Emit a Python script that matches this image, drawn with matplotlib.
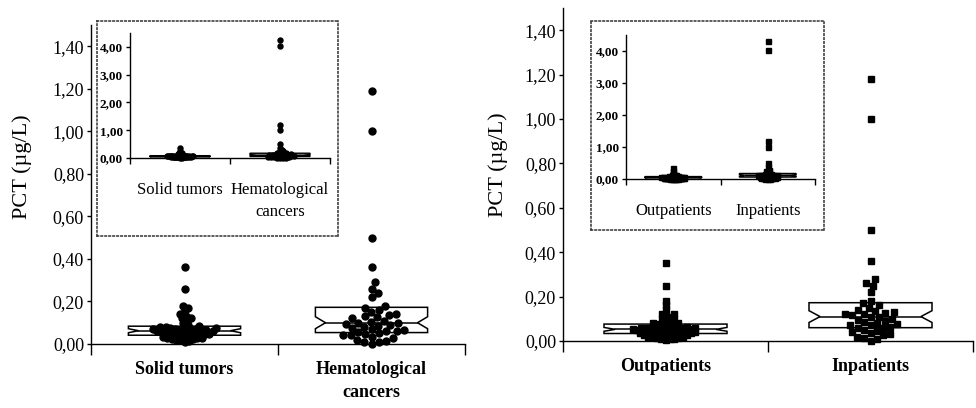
import numpy as np
import matplotlib
matplotlib.use("Agg")
import matplotlib.pyplot as plt
from matplotlib import cbook
from matplotlib.ticker import FuncFormatter

plt.rcParams['font.family'] = ['Liberation Serif', 'DejaVu Serif']

# PCT values (µg/L)
solid = [0.36, 0.26, 0.18, 0.17, 0.16, 0.14, 0.13, 0.12, 0.12, 0.11, 0.10, 0.09,
         0.085, 0.08, 0.08, 0.08, 0.075, 0.075, 0.07, 0.07, 0.07, 0.07, 0.065,
         0.065, 0.065, 0.06, 0.06, 0.06, 0.06, 0.055, 0.055, 0.05, 0.05, 0.05,
         0.045, 0.045, 0.045, 0.04,
         0.04, 0.035, 0.035, 0.03, 0.03, 0.03, 0.025, 0.025, 0.02, 0.02, 0.015, 0.01]
hemato = [4.26, 4.02, 1.19, 1.00, 0.50, 0.36, 0.29, 0.26, 0.24, 0.22, 0.18,
          0.17, 0.16, 0.15, 0.14, 0.135, 0.13, 0.125, 0.12, 0.11, 0.105, 0.10,
          0.10, 0.095, 0.09, 0.085, 0.08, 0.075, 0.07, 0.065, 0.06, 0.06, 0.055,
          0.05, 0.045, 0.04, 0.04, 0.035, 0.03, 0.02, 0.015, 0.01, 0.01, 0.00]
outpat = [0.35, 0.25, 0.18, 0.16, 0.14, 0.12, 0.12, 0.11, 0.11, 0.10, 0.10,
          0.09, 0.09, 0.08, 0.08,
          0.075, 0.07, 0.07, 0.07, 0.065, 0.065,
          0.06, 0.06, 0.06, 0.06, 0.06, 0.055, 0.055, 0.055, 0.055,
          0.05, 0.05, 0.05, 0.05, 0.045, 0.045, 0.045,
          0.04, 0.04, 0.04, 0.04, 0.035, 0.035, 0.035, 0.035,
          0.03, 0.03, 0.03, 0.025, 0.025, 0.025, 0.02, 0.02, 0.02, 0.015, 0.015,
          0.01, 0.01, 0.01, 0.005]
inpat = [4.30, 4.03, 1.18, 1.00, 0.50, 0.36, 0.28, 0.26, 0.25, 0.22, 0.18,
         0.17, 0.16, 0.15, 0.14, 0.135, 0.13, 0.125, 0.12, 0.12, 0.115, 0.11, 0.11,
         0.10, 0.095, 0.09, 0.085, 0.08, 0.075, 0.07, 0.07, 0.065, 0.06,
         0.06, 0.05, 0.045, 0.04, 0.035, 0.03, 0.025, 0.02, 0.015, 0.01, 0.00]

left_labels = ['Solid tumors', 'Hematological\ncancers']
right_labels = ['Outpatients', 'Inpatients']
main_ticks = [0.0, 0.2, 0.4, 0.6, 0.8, 1.0, 1.2, 1.4]
inset_ticks = [0, 1, 2, 3, 4]

W, H = 976, 408
fig = plt.figure(figsize=(W / 100, H / 100), dpi=100)


def box_px(x0, y0, x1, y1):
    # pixel rectangle (top-left origin) -> figure fraction
    return [x0 / W, 1 - y1 / H, (x1 - x0) / W, (y1 - y0) / H]


comma = FuncFormatter(lambda v, p: f'{v:.2f}'.replace('.', ','))


def swarm(ax, vals, d):
    # beeswarm: smallest horizontal shift so points d px apart do not collide
    t = ax.transData
    ys = t.transform(np.column_stack([np.zeros(len(vals)), vals]))[:, 1]
    sx = t.transform([[1, 0]])[0][0] - t.transform([[0, 0]])[0][0]
    placed = []
    off = np.zeros(len(vals))
    for i in np.argsort(vals, kind='stable'):
        y = ys[i]
        near = [(a, b) for a, b in placed if abs(b - y) < d]
        cands = [0.0]
        for a, b in near:
            dx = np.sqrt(d * d - (b - y) ** 2)
            cands += [a + dx, a - dx]
        cands.sort(key=abs)
        for c in cands:
            if all((c - a) ** 2 + (y - b) ** 2 >= d * d - 1e-6 for a, b in near):
                break
        placed.append((c, y))
        off[i] = c / sx
    return off


def notched_box(ax, pos, vals, width, face, lw):
    st = cbook.boxplot_stats(vals)[0]
    q1, med, q3 = st['q1'], st['med'], st['q3']
    lo, hi = max(st['cilo'], q1), min(st['cihi'], q3)
    l, r = pos - width / 2, pos + width / 2
    n = 0.09 * width
    xs = [l, r, r, r - n, r, r, l, l, l + n, l]
    ys = [q1, q1, lo, med, hi, q3, q3, hi, med, lo]
    ax.fill(xs, ys, facecolor=face, edgecolor='black', lw=lw, zorder=2)
    ax.plot([l + n, r - n], [med, med], color='black', lw=lw, zorder=2)


def style_axes(ax, ymax, yticks, labels, tick_fs, lab_fs, bold, pad, xtick_len):
    ax.set_xlim(0, 2)
    ax.set_ylim(0, ymax)
    for s in ['top', 'right']:
        ax.spines[s].set_visible(False)
    for s in ['left', 'bottom']:
        ax.spines[s].set_linewidth(1.0)
    ax.set_yticks(yticks)
    ax.yaxis.set_major_formatter(comma)
    ax.tick_params(axis='y', direction='out', length=3, width=1.0,
                   labelsize=tick_fs, pad=2)
    ax.set_xticks([0, 1, 2])
    ax.set_xticklabels([])
    ax.set_xticks([0.5, 1.5], minor=True)
    ax.set_xticklabels(labels, minor=True, fontsize=lab_fs,
                       fontweight='bold' if bold else 'normal', linespacing=1.5)
    ax.tick_params(axis='x', which='major', direction='out', length=xtick_len, width=1.0)
    ax.tick_params(axis='x', which='minor', length=0, pad=pad)
    ax.patch.set_alpha(0)


def panel(main_rect, border_rect, inset_rect, groups, labels, marker, gaps, ylab_xy):
    ax = fig.add_axes(box_px(*main_rect))
    style_axes(ax, 1.5, main_ticks, labels, 13, 13, True, 12, 8)
    offsets = []
    for k, vals in enumerate(groups):
        v = np.asarray(vals)
        off = swarm(ax, v, gaps[k])
        offsets.append(off)
        notched_box(ax, k + 0.5, v, 0.6, 'white', 1.1)
        keep = v <= 1.5
        ax.plot(k + 0.5 + off[keep], v[keep], ls='none', marker=marker, ms=5,
                color='black', clip_on=False, zorder=3)
    fig.text(*ylab_xy, 'PCT (µg/L)', rotation=90, fontsize=16,
             ha='center', va='center')

    bd = fig.add_axes(box_px(*border_rect))
    bd.set_xticks([])
    bd.set_yticks([])
    for s in bd.spines.values():
        s.set_linestyle((0, (1, 1.6)))
        s.set_linewidth(1.1)
        s.set_color('#333333')

    ins = fig.add_axes(box_px(*inset_rect))
    style_axes(ins, 4.5, inset_ticks, labels, 9.5, 12, False, 17, 4)
    for lab in ins.get_yticklabels():
        lab.set_fontweight('bold')
    for k, vals in enumerate(groups):
        v = np.asarray(vals)
        notched_box(ins, k + 0.5, v, 0.6, '#7f7f7f', 1.0)
        ins.plot(k + 0.5 + offsets[k] * 0.8, v, ls='none', marker=marker, ms=3.6,
                 color='black', clip_on=False, zorder=3)


panel((91, 25, 465, 344), (97, 21, 338, 236), (130, 33, 330, 158),
      [solid, hemato], left_labels, 'o', [4.5, 7.5], (22 / W, 1 - 167 / H))
panel((563, 8, 973, 341), (591, 21, 824, 230), (626, 35, 815, 179),
      [outpat, inpat], right_labels, 's', [4.4, 7.0], (498 / W, 1 - 165 / H))

fig.savefig('out.png', dpi=100)
